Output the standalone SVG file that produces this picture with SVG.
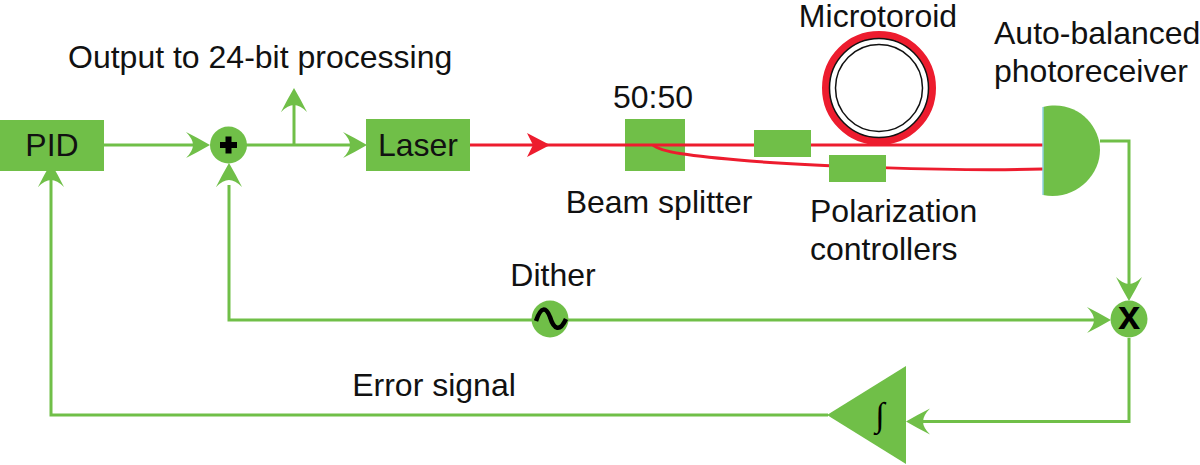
<svg xmlns="http://www.w3.org/2000/svg" width="1200" height="465" viewBox="0 0 1200 465">
<style>
.g{fill:#70bf48}
.w{fill:none;stroke:#70bf48;stroke-width:3}
.r{fill:none;stroke:#ed1c2e;stroke-width:3}
.t{font-family:"Liberation Sans",Arial,sans-serif;font-size:32px;fill:#111}
</style>
<defs>
<path id="ah" d="M0 0Q-12 -7 -24 -13Q-17 -6 -17 0Q-17 6 -24 13Q-12 7 0 0Z"/>
</defs>
<rect width="1200" height="465" fill="#fff"/>
<g id="splitter"><rect class="g" x="625" y="119" width="60" height="52"/><text class="t" x="653" y="108" text-anchor="middle">50:50</text><text class="t" x="659" y="213" text-anchor="middle">Beam splitter</text></g>
<g id="connectors">
<path class="w" d="M104 145H200"/>
<path class="w" d="M246 145H352"/>
<path class="w" d="M294 145V100"/>
<path class="w" d="M1100 141H1129V295"/>
<path class="w" d="M229 185V320H1100"/>
<path class="w" d="M1129 338V421.500H920"/>
<path class="w" d="M828 415H51V175"/>
<path class="r" d="M470 145H1043"/>
<path class="r" d="M653 145C660 152 690 156 750 161C800 165 950 172 1043 169"/>
<use href="#ah" class="g" transform="translate(210,145)"/>
<use href="#ah" class="g" transform="translate(367,145)"/>
<use href="#ah" class="g" transform="translate(294,88) rotate(-90)"/>
<use href="#ah" class="g" transform="translate(229,163) rotate(-90)"/>
<use href="#ah" class="g" transform="translate(51,163) rotate(-90)"/>
<use href="#ah" class="g" transform="translate(1129,301) rotate(90)"/>
<use href="#ah" class="g" transform="translate(1111,320)"/>
<use href="#ah" class="g" transform="translate(906,421.500) rotate(180)"/>
<path d="M550 145L527 133L533 145L527 157Z" fill="#ed1c2e"/>
</g>
<g id="pid"><rect class="g" x="0" y="120" width="104" height="51"/><text class="t" x="52" y="156" text-anchor="middle">PID</text></g>
<g id="sum"><circle class="g" cx="228.500" cy="145" r="18.500"/><path d="M228.500 136.500V153.500M220 145H237" stroke="#000" stroke-width="6" fill="none"/></g>
<g id="laser"><rect class="g" x="366" y="119" width="104" height="52"/><text class="t" x="418" y="156" text-anchor="middle">Laser</text></g>
<g id="output-label"><text class="t" x="68" y="68">Output to 24-bit processing</text></g>
<g id="pc1"><rect class="g" x="754" y="130" width="57" height="27"/></g>
<g id="pc2"><rect class="g" x="829" y="155" width="57" height="27"/><text class="t" x="810" y="222">Polarization</text><text class="t" x="810" y="260">controllers</text></g>
<g id="microtoroid"><circle cx="879" cy="88" r="53.300" fill="#fff" stroke="#ed1c2e" stroke-width="7.400"/><circle cx="879" cy="88" r="49.500" fill="none" stroke="#111" stroke-width="1.500"/><circle cx="879" cy="88" r="43.500" fill="#fff" stroke="#111" stroke-width="1.500"/><text class="t" x="878" y="27" text-anchor="middle">Microtoroid</text></g>
<g id="photoreceiver"><path class="g" d="M1043 107C1075 99 1100 124 1100 150C1100 176 1075 201 1043 195Z"/><path d="M1043 107V195" stroke="#8fd0e0" stroke-width="1.500"/><text class="t" x="994" y="44">Auto-balanced</text><text class="t" x="994" y="82">photoreceiver</text></g>
<g id="dither"><circle class="g" cx="550" cy="319" r="18.500"/><path d="M536 321C541 306 546 307 550 317C554 330 560 332 566 319" stroke="#000" stroke-width="4.500" fill="none"/><text class="t" x="553" y="286" text-anchor="middle">Dither</text></g>
<g id="mixer"><circle class="g" cx="1129" cy="319" r="18.500"/><text x="1129" y="329" text-anchor="middle" font-family="Liberation Sans, Arial, sans-serif" font-weight="bold" font-size="40" fill="#000">x</text></g>
<g id="integrator"><path class="g" d="M906 366V464L827 415Z"/><text x="880" y="426" text-anchor="middle" font-family="Liberation Serif, serif" font-size="34" fill="#000">∫</text></g>
<g id="error-label"><text class="t" x="434" y="396" text-anchor="middle">Error signal</text></g>
</svg>
